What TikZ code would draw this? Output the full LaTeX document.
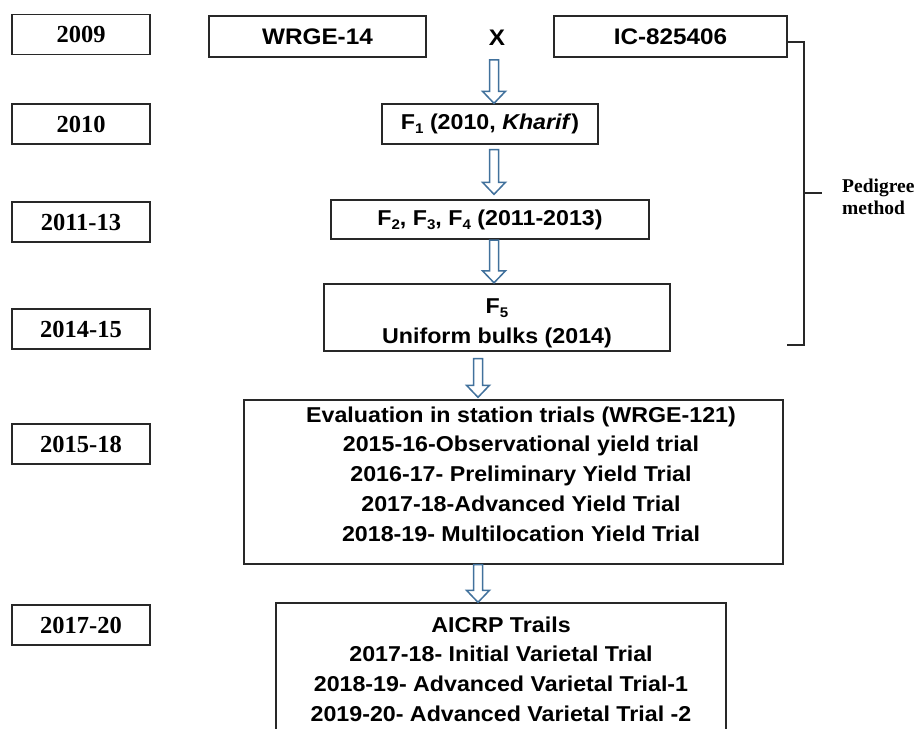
\documentclass[tikz,border=0pt]{standalone}
\usepackage{fontspec}
\setmainfont{Liberation Sans}[FakeStretch=1.08]
\newfontfamily\serifyear{Liberation Serif}
\usetikzlibrary{calc}

\definecolor{arrowblue}{RGB}{65,113,156}
\definecolor{edge}{RGB}{40,40,40}

% lowered index for generation labels (F1, F2, ...)
\newcommand\lowidx[1]{\raisebox{-0.35ex}{\fontsize{14}{14}\selectfont #1}}

% hollow block arrow pointing down: x, from, to, start gap, end gap
\newcommand\hollowdown[5]{%
  \draw[barrow] let \p1=(#2), \p2=(#3) in
    (#1pt-4.5pt,\y1-#4pt) -- (#1pt+4.5pt,\y1-#4pt)
    -- (#1pt+4.5pt,\y2+#5pt+12pt) -- (#1pt+11.5pt,\y2+#5pt+12pt)
    -- (#1pt,\y2+#5pt)
    -- (#1pt-11.5pt,\y2+#5pt+12pt) -- (#1pt-4.5pt,\y2+#5pt+12pt) -- cycle;}

\tikzset{
  box/.style={draw=edge, line width=1.4pt, rectangle, inner sep=0pt,
    font=\fontsize{21.5}{30}\selectfont\bfseries, align=center},
  topbox/.style={box, font=\fontsize{22.5}{30}\selectfont\bfseries},
  boxtext/.style={inner sep=0pt, font=\fontsize{21.5}{29.7}\selectfont\bfseries, align=center},
  yearbox/.style={draw=edge, line width=1.4pt, rectangle, minimum width=138pt,
    minimum height=40pt, inner sep=0pt, font=\serifyear\fontsize{24.5}{28}\selectfont\bfseries},
  barrow/.style={draw=arrowblue, fill=white, line width=1.5pt, line join=miter},
  bracket/.style={draw=edge, line width=1.3pt},
  sidenote/.style={anchor=west, align=left, inner sep=0pt,
    font=\serifyear\fontsize{19.5}{22}\selectfont\bfseries},
}

\begin{document}
\begin{tikzpicture}[x=1pt, y=-1pt]
\clip (0,0) rectangle (917,728);

% year column
\node[yearbox] (y2009) at (81,34.5) {2009};
\node[yearbox] (y2010) at (81,124) {2010};
\node[yearbox] (y2011) at (81,222) {2011-13};
\node[yearbox] (y2014) at (81,329) {2014-15};
\node[yearbox] (y2015) at (81,444) {2015-18};
\node[yearbox] (y2017) at (81,625) {2017-20};

% parents and cross
\node[topbox, minimum width=217pt, minimum height=41pt] (wrge) at (317.5,36.5) {WRGE-14};
\node[inner sep=0pt, font=\fontsize{22.5}{24}\selectfont\bfseries] (cross) at (497,38) {X};
\node[topbox, minimum width=233pt, minimum height=41pt] (ic) at (670.5,36.5) {IC-825406};

% generations
\node[box, minimum width=216pt, minimum height=40pt] (f1) at (490,124)
  {F\lowidx{1} (2010, \textit{Kharif})};
\node[box, minimum width=318pt, minimum height=39pt] (f2) at (490,219.5)
  {F\lowidx{2}, F\lowidx{3}, F\lowidx{4} (2011-2013)};
\node[box, minimum width=346pt, minimum height=67pt] (f5) at (497,317.5) {};
\node[boxtext] (f5txt) at (497,323) {F\lowidx{5}\\Uniform bulks (2014)};

% station trials
\node[box, minimum width=539pt, minimum height=164pt] (eval) at (513.5,482) {};
\node[boxtext] (evaltxt) at (521,474) {Evaluation in station trials (WRGE-121)\\
  2015-16-Observational yield trial\\
  2016-17- Preliminary Yield Trial\\
  2017-18-Advanced Yield Trial\\
  2018-19- Multilocation Yield Trial};

% AICRP trials
\node[box, minimum width=450pt, minimum height=150pt] (aicrp) at (501,678) {};
\node[boxtext] (aicrptxt) at (501,669) {AICRP Trails\\
  2017-18- Initial Varietal Trial\\
  2018-19- Advanced Varietal Trial-1\\
  2019-20- Advanced Varietal Trial -2};

% arrows between stages
\hollowdown{494}{cross.south}{f1.north}{14}{0}
\hollowdown{494}{f1.south}{f2.north}{5}{5}
\hollowdown{494}{f2.south}{f5.north}{0.5}{0.5}
\hollowdown{478}{f5.south}{eval.north}{7}{2}
\hollowdown{478}{eval.south}{aicrp.north}{0}{0}

% pedigree bracket
\coordinate (brtop) at (804,42);
\coordinate (brmid) at (804,193);
\coordinate (brbot) at (804,345);
\coordinate (brend) at (787,345);
\coordinate (brtick) at (822,193);
\draw[bracket] ([yshift=-5.5pt]ic.east) -- (brtop) -- (brbot) -- (brend);
\draw[bracket] (brmid) -- (brtick);
\node[sidenote] (pedigree) at (842,197) {Pedigree\\method};
\end{tikzpicture}
\end{document}
